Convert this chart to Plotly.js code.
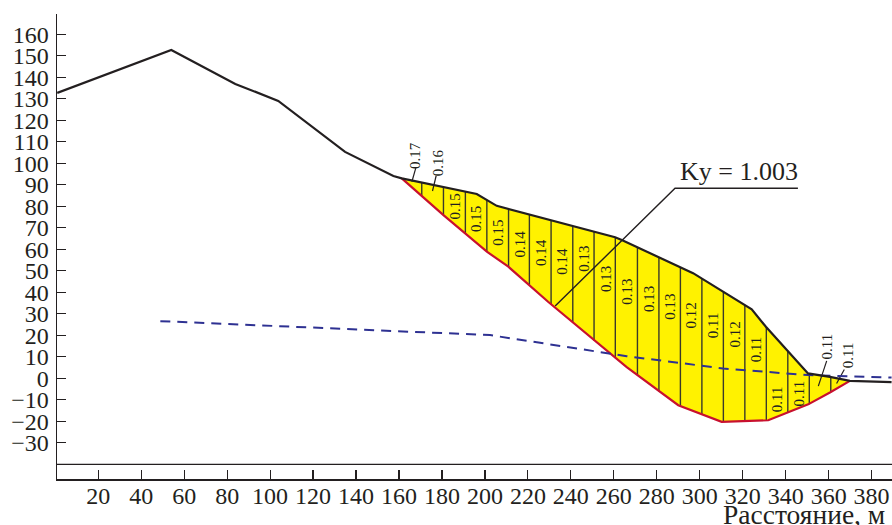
<!DOCTYPE html>
<html>
<head>
<meta charset="utf-8">
<script src="https://cdn.plot.ly/plotly-3.0.1.min.js"></script>
<style>html,body{margin:0;padding:0;background:#fff;overflow:hidden}</style>
</head>
<body>
<div id="chart" style="width:892px;height:525px"></div>
<script>
const groundX = [0.9,54,83.8,103.8,134.9,157.4,161.3,196.2,205.5,260.6,263.7,296.9,324.2,330.8,350.4,360.6,369.9,389.3];
const groundY = [132.7,152.7,136.9,129,105.3,94.1,93,85.7,80.2,65.6,64.3,48.9,32.1,24,2.3,0.7,-1.2,-1.8];
const slipX = [161.3,170.6,180.7,200.9,210.9,229.4,266,290,310.2,331.9,350.5,360.6,369.9];
const slipY = [93,84.8,75.9,58.9,51.9,35.6,5.2,-12.5,-20.2,-19.5,-12.1,-6.6,-1.2];
const waterX = [48.9,202.4,266,310.8,350.4,389.3];
const waterY = [26.6,20.1,10.3,4.6,1.5,0.4];
const sliceX = [170.6,180.7,190.9,200.9,211,220.7,230.8,240.9,250.8,260.7,271,281,291,301,311,321,331,341,351,361];
const sliceTop = [91.1,89,86.8,82.9,78.7,76.1,73.4,70.7,68.1,65.5,61,56.3,51.7,46.6,40.3,34.1,24,12.8,2.2,0.7];
const sliceBottom = [84.8,75.9,67.3,58.9,51.9,43.6,34.4,25.9,17.5,9.4,1.5,-6.1,-12.9,-16.7,-20.2,-19.8,-19.5,-15.9,-12,-6.4];
const factorText = ["0.17","0.16","0.15","0.15","0.15","0.14","0.14","0.14","0.13","0.13","0.13","0.13","0.13","0.12","0.11","0.12","0.11","0.11","0.11","0.11","0.11"];
const factorX = [167.5,178.2,186.3,195.9,206.3,216.4,226.2,235.9,246.3,256.4,266,276.4,286.2,296,306.5,316.4,326.1,336.3,346.2,359.1,369.1];
const factorY = [103.4,100.1,80.1,74.1,67.9,62.3,58.4,54.2,55.8,46.2,40.1,36.9,33.3,29.3,24.6,20.4,13.4,-9.8,-7,14.7,10.8];
const leaderX = [167.8,166,null,177.3,175.6,null,359.1,355.2,null,367.3,363.7];
const leaderY = [97.7,91.4,null,94.2,87.1,null,8.1,-3.6,null,4.1,-2.4];
const kyX = [232.7,288.5,345.7];
const kyY = [33.6,88.4,88.4];
const kyText = "Ky = 1.003";
const baseX = [0.8,389.5];
const baseY = [-40,-40];
const xTicks = [20,40,60,80,100,120,140,160,180,200,220,240,260,280,300,320,340,360,380];
const yTicks = [-30,-20,-10,0,10,20,30,40,50,60,70,80,90,100,110,120,130,140,150,160];
const xTitle = "Расстояние, м";

const serif = '"Liberation Serif","Times New Roman",serif';
const ink = '#231f20';

const vx = [], vy = [];
sliceX.forEach((x,i)=>{ vx.push(x,x,null); vy.push(sliceTop[i],sliceBottom[i],null); });

const iFrom = groundX.indexOf(slipX[0]);
const iTo = groundX.indexOf(slipX[slipX.length-1]);
const fillX = groundX.slice(iFrom,iTo+1).concat(slipX.slice().reverse());
const fillY = groundY.slice(iFrom,iTo+1).concat(slipY.slice().reverse());

const line = (x,y,color,width,dash)=>({x,y,type:'scatter',mode:'lines',hoverinfo:'skip',showlegend:false,
  line:{color,width,dash:dash||'solid',shape:'linear'}});

const traces = [
  {x:fillX,y:fillY,type:'scatter',mode:'none',fill:'toself',fillcolor:'#fff200',hoverinfo:'skip',showlegend:false},
  line(vx,vy,'#3a3a2a',1.4),
  line(baseX,baseY,ink,1.3),
  line(leaderX,leaderY,ink,1.2),
  line(kyX,kyY,ink,1.4),
  line(slipX,slipY,'#c8102e',2.2),
  line(waterX,waterY,'#2e3192',2,'10px,7px'),
  line(groundX,groundY,ink,2.2)
];

const annotations = factorText.map((t,i)=>({x:factorX[i],y:factorY[i],xref:'x',yref:'y',text:t,showarrow:false,
  textangle:-90,font:{family:serif,size:15,color:ink},xanchor:'center',yanchor:'middle'}));
annotations.push({x:318.3,y:96,xref:'x',yref:'y',text:kyText,showarrow:false,
  font:{family:serif,size:26,color:ink},xanchor:'center',yanchor:'middle'});
annotations.push({x:0.895,y:-0.076,xref:'paper',yref:'paper',text:xTitle,showarrow:false,
  font:{family:serif,size:27.5,color:ink},xanchor:'center',yanchor:'middle'});

const layout = {
  width:892,height:525,
  margin:{l:56.7,r:0,t:14,b:46.3,pad:0},
  paper_bgcolor:'#fff',plot_bgcolor:'#fff',showlegend:false,
  font:{family:serif,color:ink},
  xaxis:{range:[0.8,389.5],tickmode:'array',tickvals:xTicks,ticktext:xTicks.map(String),ticks:'inside',ticklen:9,tickwidth:1.2,tickcolor:ink,
    showline:true,linecolor:ink,linewidth:1.5,showgrid:false,zeroline:false,tickfont:{family:serif,size:24,color:ink},tickangle:0,ticklabelstandoff:-5},
  yaxis:{range:[-46.8,169.4],tickmode:'array',tickvals:yTicks,ticktext:yTicks.map(v=>v<0?'\u2212'+(-v):String(v)),ticks:'inside',ticklen:9,tickwidth:1.2,tickcolor:ink,
    showline:true,linecolor:ink,linewidth:1.5,showgrid:false,zeroline:false,tickfont:{family:serif,size:24,color:ink},ticklabelstandoff:2},
  annotations
};
Plotly.newPlot('chart',traces,layout,{displayModeBar:false,staticPlot:true});
</script>
</body>
</html>
